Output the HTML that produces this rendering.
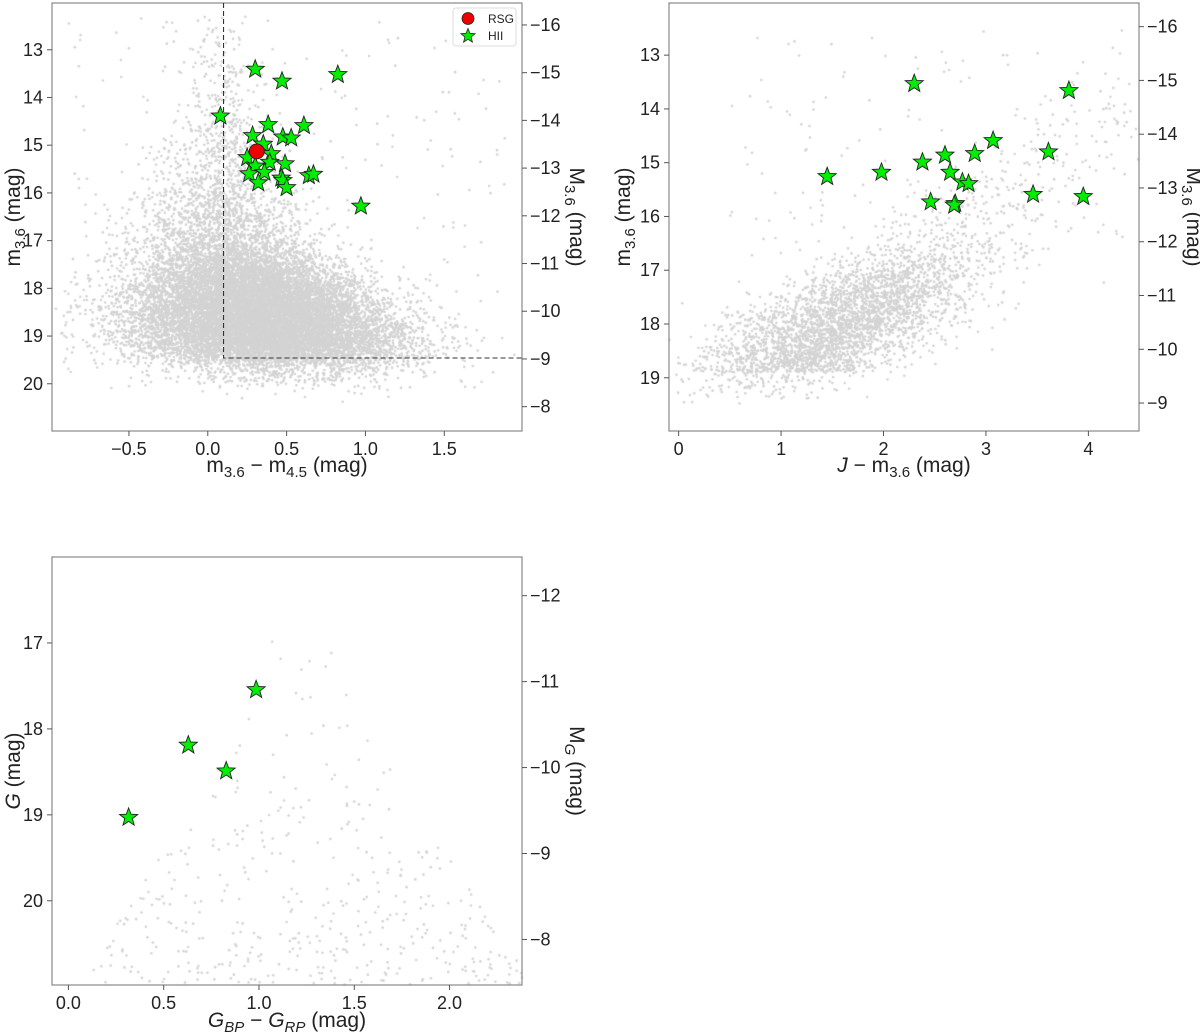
<!DOCTYPE html>
<html><head><meta charset="utf-8"><style>
html,body{margin:0;padding:0;background:#fff;}
#wrap{position:relative;width:1200px;height:1034px;overflow:hidden;font-family:"Liberation Sans","DejaVu Sans",sans-serif;}
canvas,svg{position:absolute;left:0;top:0;}
</style></head><body>
<div id="wrap">
<canvas id="cv" width="1200" height="1034"></canvas>
<svg id="sv" width="1200" height="1034" xmlns="http://www.w3.org/2000/svg"></svg>
</div>
<script>
// ---- Panel 1 data: m3.6-m4.5 vs m3.6 ----
const p1HiiX = [0.301,0.471,0.825,0.080,0.383,0.610,0.284,0.476,0.529,0.352,0.403,0.250,0.393,0.490,0.301,0.262,0.359,0.641,0.670,0.466,0.476,0.320,0.500,0.971];
const p1HiiY = [13.41,13.66,13.52,14.39,14.57,14.59,14.80,14.83,14.85,14.98,15.18,15.26,15.36,15.39,15.44,15.60,15.57,15.64,15.61,15.69,15.74,15.79,15.89,16.28];
const p1RsgX = [0.311];
const p1RsgY = [15.13];
const p1XTicks = [-0.5,0.0,0.5,1.0,1.5];
const p1YTicks = [13,14,15,16,17,18,19,20];
const p1RTicks = [-16,-15,-14,-13,-12,-11,-10,-9,-8];
// ---- Panel 2 data: J-m3.6 vs m3.6 ----
const p2HiiX = [2.30,3.81,3.07,3.61,2.89,2.60,2.38,1.98,2.65,1.45,2.77,2.83,3.46,3.95,2.46,2.70,2.69];
const p2HiiY = [13.53,13.66,14.59,14.80,14.83,14.86,14.99,15.18,15.18,15.26,15.36,15.39,15.59,15.63,15.73,15.76,15.79];
const p2XTicks = [0,1,2,3,4];
const p2YTicks = [13,14,15,16,17,18,19];
const p2RTicks = [-16,-15,-14,-13,-12,-11,-10,-9];
// ---- Panel 3 data: GBP-GRP vs G ----
const p3HiiX = [0.985,0.629,0.828,0.316];
const p3HiiY = [17.545,18.19,18.49,19.03];
const p3XTicks = [0.0,0.5,1.0,1.5,2.0];
const p3YTicks = [17,18,19,20];
const p3RTicks = [-12,-11,-10,-9,-8];

const NS="http://www.w3.org/2000/svg";
const sv=document.getElementById('sv');
const ctx=document.getElementById('cv').getContext('2d');
function el(tag,attrs,parent,text){const e=document.createElementNS(NS,tag);for(const k in attrs)e.setAttribute(k,attrs[k]);if(text!==undefined)e.textContent=text;(parent||sv).appendChild(e);return e;}
function fmt(v,d){const s=v.toFixed(d);return v<0?'\u2212'+s.slice(1):s;}

const panels=[
 {L:52,R:522,T:3,B:431,x0:-0.988,x1:1.993,y0:12.02,y1:20.99,off:28.48,xt:p1XTicks,xd:1,yt:p1YTicks,rt:p1RTicks,name:'panel-irac-color'},
 {L:669,R:1139,T:3,B:431,x0:-0.094,x1:4.494,y0:12.03,y1:19.99,off:28.47,xt:p2XTicks,xd:0,yt:p2YTicks,rt:p2RTicks,name:'panel-j-color'},
 {L:52,R:522,T:557,B:985,x0:-0.086,x1:2.38,y0:16.0,y1:20.98,off:28.45,xt:p3XTicks,xd:1,yt:p3YTicks,rt:p3RTicks,name:'panel-gaia-color'}
];
panels.forEach(p=>{p.sx=v=>p.L+(v-p.x0)/(p.x1-p.x0)*(p.R-p.L);p.sy=v=>p.T+(v-p.y0)/(p.y1-p.y0)*(p.B-p.T);});

// background clouds (seeded deterministic density texture)
let seed=12345;function rnd(){seed=(seed*1664525+1013904223)>>>0;return seed/4294967296;}
function gauss(){let u=rnd()||1e-9,v=rnd();return Math.sqrt(-2*Math.log(u))*Math.cos(2*Math.PI*v);}
function expo(r){return -Math.log(rnd()||1e-9)/r;}
ctx.fillStyle='#d3d3d3';
function dot(p,x,y){if(x<p.x0||x>p.x1||y<p.y0||y>p.y1)return;ctx.beginPath();ctx.arc(p.sx(x),p.sy(y),1.3,0,6.283);ctx.fill();}
(function(){const p=panels[0];
 for(let i=0;i<16000;i++){let m;
  if(rnd()<0.55){m=19.4-expo(0.75)+gauss()*0.2;}else{m=18.5+gauss()*0.65;}
  if(m>19.6)m=19.6+Math.abs(gauss())*0.25;
  if(m<12.3)continue;
  let mu=Math.max(0.08,0.12+0.13*(m-17));
  let sg=0.12+0.06*Math.max(0,m-14);
  dot(p,mu+gauss()*sg,m);}
 for(let i=0;i<220;i++){dot(p,-0.9+rnd()*2.8,12.3+rnd()*7.5);}
})();
(function(){const p=panels[1];
 for(let i=0;i<3600;i++){let m;
  if(rnd()<0.6){m=17.9+gauss()*0.65;}else{m=18.9-expo(0.7);}
  if(m>19.0)m=19.0+Math.abs(gauss())*0.2;
  if(m<12.5)continue;
  let c=1.65+0.62*(17.9-m);dot(p,c+gauss()*0.48,m);}
 for(let i=0;i<120;i++){dot(p,0.5+rnd()*3.9,12.5+rnd()*4);}
})();
(function(){const p=panels[2];
 for(let i=0;i<420;i++){let m=20.98-expo(1.0);if(m<16.9)continue;
  let w=Math.max(0.2,(m-16.8)/4);dot(p,1.25+(rnd()-0.5)*2.3*w,m);}
})();

function star(p,x,y,i,name){const cx=p.sx(x),cy=p.sy(y),R=9.5,r=4;let pts=[];
 for(let k=0;k<10;k++){const a=-Math.PI/2+k*Math.PI/5;const rr=k%2?r:R;pts.push((cx+rr*Math.cos(a)).toFixed(1)+','+(cy+rr*Math.sin(a)).toFixed(1));}
 const s=el('polygon',{points:pts.join(' '),fill:'#00ee00',stroke:'#222',"stroke-width":0.9});
 
 }

panels.forEach((p,pi)=>{
 const g=el('g',{});
 const fr=el('rect',{x:p.L,y:p.T,width:p.R-p.L,height:p.B-p.T,fill:'none',stroke:'#888',"stroke-width":1.2},g);
 
 p.xt.forEach(v=>{const x=p.sx(v);el('line',{x1:x,x2:x,y1:p.B,y2:p.B+5,stroke:'#555'},g);
  const t=el('text',{x:x,y:p.B+24,"text-anchor":"middle","font-size":18,fill:'#222'},g,fmt(v,p.xd));
  });
 p.yt.forEach(v=>{const y=p.sy(v);el('line',{x1:p.L-5,x2:p.L,y1:y,y2:y,stroke:'#555'},g);
  const t=el('text',{x:p.L-9,y:y+6,"text-anchor":"end","font-size":18,fill:'#222'},g,String(v));
  });
 p.rt.forEach(v=>{const y=p.sy(v+p.off);el('line',{x1:p.R,x2:p.R+5,y1:y,y2:y,stroke:'#555'},g);
  const t=el('text',{x:p.R+8,y:y+6,"text-anchor":"start","font-size":18,fill:'#222'},g,fmt(v,0));
  });
});

// panel 1 dashed selection lines
(function(){const p=panels[0];const x=p.sx(0.1),y=p.sy(19.46);
 const d=el('path',{d:`M${x},${p.T} L${x},${y} L${p.R},${y}`,fill:'none',stroke:'#333',"stroke-width":1.1,"stroke-dasharray":"5,3"});
 })();

p1HiiX.forEach((x,i)=>star(panels[0],x,p1HiiY[i],i,'p1'));
p1RsgX.forEach((x,i)=>{const c=el('circle',{cx:panels[0].sx(x),cy:panels[0].sy(p1RsgY[i]),r:7.5,fill:'#ee0000',stroke:'#222',"stroke-width":0.9});
 });
p2HiiX.forEach((x,i)=>star(panels[1],x,p2HiiY[i],i,'p2'));
p3HiiX.forEach((x,i)=>star(panels[2],x,p3HiiY[i],i,'p3'));

// axis labels
function lab(x,y,rot,html,name){const t=el('text',{x:x,y:y,"text-anchor":"middle","font-size":21,fill:'#222',transform:rot?`rotate(${rot} ${x} ${y})`:''});
 t.innerHTML=html;}
const sub=s=>`<tspan dy="5" font-size="15">${s}</tspan><tspan dy="-5">`;
lab(287,472,0,`m${sub('3.6')} − m${sub('4.5')} (mag)</tspan></tspan>`,'x-axis-title-1');
lab(20,217,-90,`m${sub('3.6')} (mag)</tspan>`,'y-axis-title-1');
lab(570,217,90,`M${sub('3.6')} (mag)</tspan>`,'right-axis-title-1');
lab(904,472,0,`<tspan font-style="italic">J</tspan> − m${sub('3.6')} (mag)</tspan>`,'x-axis-title-2');
lab(1187,217,90,`M${sub('3.6')} (mag)</tspan>`,'right-axis-title-2');
lab(287,1027,0,`<tspan font-style="italic">G</tspan><tspan dy="5" font-size="15" font-style="italic">BP</tspan><tspan dy="-5"> − </tspan><tspan font-style="italic">G</tspan><tspan dy="5" font-size="15" font-style="italic">RP</tspan><tspan dy="-5"> (mag)</tspan>`,'x-axis-title-3');
lab(20,771,-90,`<tspan font-style="italic">G</tspan> (mag)`,'y-axis-title-3');
lab(570,771,90,`M<tspan dy="5" font-size="15" font-style="italic">G</tspan><tspan dy="-5"> (mag)</tspan>`,'right-axis-title-3');
lab(630,217,-90,`m${sub('3.6')} (mag)</tspan>`,'y-axis-title-2');

// legend
(function(){const g=el('g',{});
 el('rect',{x:453,y:8,width:63,height:38,rx:3,fill:'#fff',stroke:'#ddd'},g);
 el('circle',{cx:468,cy:18.5,r:6,fill:'#ee0000',stroke:'#222',"stroke-width":0.8},g);
 let pts=[];for(let k=0;k<10;k++){const a=-Math.PI/2+k*Math.PI/5;const rr=k%2?3.3:7.5;pts.push((468+rr*Math.cos(a)).toFixed(1)+','+(36+rr*Math.sin(a)).toFixed(1));}
 el('polygon',{points:pts.join(' '),fill:'#00ee00',stroke:'#222',"stroke-width":0.8},g);
 const a=el('text',{x:488,y:23,"font-size":12,fill:'#222'},g,'RSG');
 const b=el('text',{x:488,y:40,"font-size":12,fill:'#222'},g,'HII');
})();
</script>
</body></html>
